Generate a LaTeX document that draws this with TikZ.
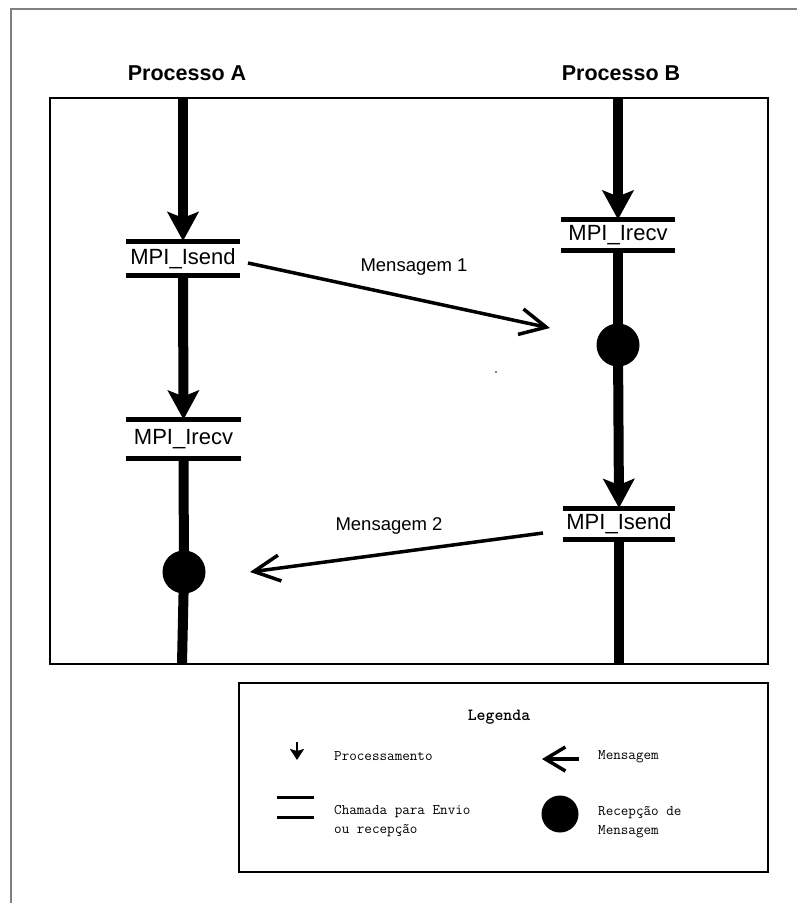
\documentclass[tikz,border=0pt]{standalone}
\usepackage{fontspec}
\setmainfont{Liberation Sans}
\usetikzlibrary{arrows.meta}
\definecolor{framegray}{RGB}{128,128,128}
\begin{document}
\begin{tikzpicture}[x=1pt,y=-1pt,
  proc/.style={line width=10pt},
  procarrow/.style={proc,-{Stealth[length=29pt,width=31pt,inset=6pt]}},
  bar/.style={line width=5pt},
  call/.style={inner sep=0pt,outer sep=0pt,minimum width=114pt,font=\fontsize{22}{26}\selectfont},
  recv/.style={circle,fill=black,inner sep=0pt,minimum size=43pt},
  msg/.style={line width=3.5pt,-{Straight Barb[length=26pt,width=26pt]}},
  msglbl/.style={font=\fontsize{18.5}{22}\selectfont},
  ptitle/.style={font=\fontsize{21.5}{26}\selectfont\bfseries},
  legtxt/.style={font=\ttfamily\fontsize{14.7}{17}\selectfont,anchor=west,inner sep=0pt},
  legtitle/.style={font=\ttfamily\bfseries\fontsize{17}{19}\selectfont,inner sep=0pt}]
\useasboundingbox (0,0) rectangle (797,903);
% outer frame
\draw[framegray,line width=1.5pt] (11,903) -- (11,9) -- (797,9);
% main box
\draw[line width=2pt] (50,98) rectangle (768,664);
% titles
\node[ptitle] (tA) at (187,73) {Processo A};
\node[ptitle] (tB) at (621,73) {Processo B};
% call nodes
\node[call,minimum height=34.5pt] (isendA) at (183,258.25) {MPI\_Isend};
\node[call,minimum height=39pt,minimum width=115pt] (irecvA) at (183.5,439) {MPI\_Irecv};
\node[call,minimum height=31pt] (irecvB) at (618,235) {MPI\_Irecv};
\node[call,minimum height=31pt,minimum width=112pt] (isendB) at (619,523.5) {MPI\_Isend};
\foreach \n in {isendA,irecvA,irecvB,isendB}{
  \draw[bar] (\n.north west) -- (\n.north east);
  \draw[bar] (\n.south west) -- (\n.south east);
}
% reception circles
\node[recv] (recA) at (184,572) {};
\node[recv] (recB) at (618,345) {};
% free ends
\coordinate (Atop) at (183,98);
\coordinate (Abot) at (182,664);
\coordinate (Btop) at (618,98);
\coordinate (Bbot) at (619,664);
% process lines
\draw[procarrow] (Atop) -- (isendA.north);
\draw[procarrow] (isendA.south) -- (irecvA.north);
\draw[proc] (irecvA.south) -- (recA.center) -- (Abot);
\draw[procarrow] (Btop) -- (irecvB.north);
\draw[proc] (irecvB.south) -- (recB.center);
\draw[procarrow] (recB.center) -- (isendB.north);
\draw[proc] (isendB.south) -- (Bbot);
% messages
\coordinate (m1s) at (248,263);
\coordinate (m1e) at (550,328);
\coordinate (m2s) at (543,533);
\coordinate (m2e) at (250,572);
\draw[msg] (m1s) -- (m1e);
\draw[msg] (m2s) -- (m2e);
\node[msglbl] (l1) at (414,267) {Mensagem 1};
\node[msglbl] (l2) at (389,526) {Mensagem 2};
\fill (496,372) circle (0.8pt);
% legend
\draw[line width=2.5pt] (239,683) rectangle (768,872);
\node[legtitle] (leg) at (499,717) {Legenda};
\coordinate (la1) at (297,742);
\coordinate (la2) at (297,760);
\draw[line width=2.2pt,-{Stealth[length=11pt,width=14pt,inset=2pt]}] (la1) -- (la2);
\node[legtxt] (tproc) at (334,756) {Processamento};
\coordinate (lm1) at (579,759);
\coordinate (lm2) at (542,759);
\draw[line width=3.5pt,-{Straight Barb[length=20pt,width=24pt]}] (lm1) -- (lm2);
\node[legtxt] (tmsg) at (598,757) {Mensagem};
\coordinate (lb1) at (277,797);
\coordinate (lb2) at (314,797);
\coordinate (lb3) at (277,817);
\coordinate (lb4) at (314,817);
\draw[line width=3pt] (lb1) -- (lb2);
\draw[line width=3pt] (lb3) -- (lb4);
\node[legtxt] (tcall1) at (334,812) {Chamada para Envio};
\node[legtxt] (tcall2) at (334,831) {ou recepção};
\node[circle,fill=black,inner sep=0pt,minimum size=37pt] (lrec) at (560,814) {};
\node[legtxt] (trec1) at (598,813) {Recepção de};
\node[legtxt] (trec2) at (598,832) {Mensagem};
\end{tikzpicture}
\end{document}
